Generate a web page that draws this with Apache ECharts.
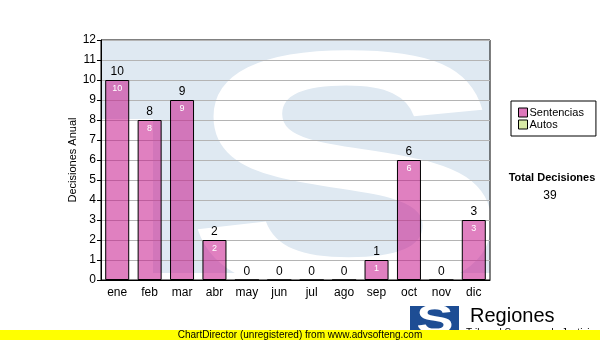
<!DOCTYPE html>
<html>
<head>
<meta charset="utf-8">
<script src="https://cdn.jsdelivr.net/npm/echarts@6/dist/echarts.min.js"></script>
<style>
  html, body { margin: 0; padding: 0; background: #fff; }
  #chart { width: 600px; height: 340px; }
</style>
</head>
<body>
<div id="chart"></div>
<script>
  // datos
  var meses = ['ene', 'feb', 'mar', 'abr', 'may', 'jun', 'jul', 'ago', 'sep', 'oct', 'nov', 'dic'];
  var sentencias = [10, 8, 9, 2, 0, 0, 0, 0, 1, 6, 0, 3];
  var autos = [0, 0, 0, 0, 0, 0, 0, 0, 0, 0, 0, 0];

  var total = 0;
  sentencias.concat(autos).forEach(function (v) { total += v; });

  var font = 'Arial, "Liberation Sans", sans-serif';
  var myChart = echarts.init(document.getElementById('chart'));

  myChart.setOption({
    animation: false,
    textStyle: { fontFamily: font },
    grid: {
      left: 101, top: 40, width: 389, height: 240,
      show: true,
      borderColor: '#000',
      borderWidth: 1,
      backgroundColor: 'transparent'
    },
    legend: {
      orient: 'vertical',
      left: 511, top: 101,
      padding: [6, 12, 6, 7],
      itemGap: 1,
      itemWidth: 9, itemHeight: 9,
      borderColor: '#000', borderWidth: 1,
      textStyle: { fontSize: 11, color: '#000', fontFamily: font, padding: [0, 0, 0, -3] },
      data: [
        { name: 'Sentencias', icon: 'rect', itemStyle: { color: '#dd77bb', borderColor: '#000', borderWidth: 1 } },
        { name: 'Autos', icon: 'rect', itemStyle: { color: '#d8eaa6', borderColor: '#000', borderWidth: 1 } }
      ]
    },
    xAxis: {
      type: 'category',
      data: meses,
      axisLine: { lineStyle: { color: '#000' } },
      axisTick: { alignWithLabel: true, length: 4, lineStyle: { color: '#000' } },
      axisLabel: { color: '#000', fontSize: 12, margin: 7, fontFamily: font }
    },
    yAxis: {
      type: 'value',
      min: 0, max: 12, interval: 1,
      name: 'Decisiones Anual',
      nameLocation: 'middle',
      nameRotate: 90,
      nameGap: 23,
      nameMoveOverlap: false,
      nameTextStyle: { color: '#000', fontSize: 11, fontFamily: font },
      axisLine: { show: true, lineStyle: { color: '#000' } },
      axisTick: { show: true, length: 4, lineStyle: { color: '#000' } },
      axisLabel: { color: '#000', fontSize: 12, margin: 5, fontFamily: font },
      splitLine: { lineStyle: { color: '#b4b4b4' } }
    },
    series: [
      {
        name: 'Sentencias',
        type: 'bar',
        data: sentencias,
        barWidth: 24,
        barGap: '-100%',
        itemStyle: { color: 'rgba(199,24,140,0.55)', borderColor: '#000', borderWidth: 1 },
        label: {
          show: true, position: 'insideTop', distance: 4,
          color: '#fff', fontSize: 9, fontFamily: font,
          formatter: function (p) { return p.value ? p.value : ''; }
        }
      },
      {
        name: 'Autos',
        type: 'bar',
        data: autos,
        barWidth: 24,
        barGap: '-100%',
        itemStyle: { color: '#d8eaa6', borderWidth: 0 }
      },
      {
        name: 'etiquetas',
        type: 'bar',
        data: sentencias,
        barWidth: 24,
        barGap: '-100%',
        silent: true,
        itemStyle: { color: 'transparent' },
        label: { show: true, position: 'top', distance: 2, color: '#000', fontSize: 12, fontFamily: font }
      }
    ],
    graphic: {
      elements: [
        // marca de agua del logo
        { type: 'rect', z: -10, shape: { x: 101, y: 40, width: 389, height: 79 }, style: { fill: '#dfe9f2' } },
        { type: 'rect', z: -10, shape: { x: 153, y: 119, width: 337, height: 154 }, style: { fill: '#dfe9f2' } },
        {
          type: 'text', z: -9, x: 347, y: 196, scaleX: 1.42, scaleY: 1,
          style: { text: 'S', font: 'bold 345px ' + font, fill: '#fff', textAlign: 'center', textVerticalAlign: 'middle' }
        },
        { type: 'rect', z: -8, shape: { x: 101, y: 0, width: 389, height: 39.5 }, style: { fill: '#fff' } },
        { type: 'rect', z: -8, shape: { x: 490.5, y: 0, width: 109.5, height: 300 }, style: { fill: '#fff' } },
        { type: 'rect', z: -8, shape: { x: 101, y: 280.5, width: 389, height: 40 }, style: { fill: '#fff' } },

        { type: 'text', x: 552, y: 178, style: { text: 'Total Decisiones', font: 'bold 11px ' + font, fill: '#000', textAlign: 'center', textVerticalAlign: 'middle' } },
        { type: 'text', x: 550, y: 196, style: { text: String(total), font: '12px ' + font, fill: '#000', textAlign: 'center', textVerticalAlign: 'middle' } },

        // logo inferior
        { type: 'rect', shape: { x: 410, y: 306, width: 49, height: 26 }, style: { fill: '#1d4d94' } },
        {
          type: 'text', x: 435, y: 322, scaleX: 1.4,
          style: { text: 'S', font: 'bold 40px ' + font, fill: '#fff', textAlign: 'center', textVerticalAlign: 'middle' }
        },
        { type: 'text', x: 470, y: 306, style: { text: 'Regiones', font: '20px ' + font, fill: '#000', textAlign: 'left', textVerticalAlign: 'top' } },
        { type: 'text', x: 466, y: 328, style: { text: 'Tribunal Supremo de Justicia', font: '10px ' + font, fill: '#000', textAlign: 'left', textVerticalAlign: 'top' } },

        // barra amarilla
        { type: 'rect', shape: { x: 0, y: 330, width: 600, height: 10 }, style: { fill: '#ffff00' } },
        { type: 'text', x: 300, y: 335, style: { text: 'ChartDirector (unregistered) from www.advsofteng.com', font: '10px ' + font, fill: '#000', textAlign: 'center', textVerticalAlign: 'middle' } }
      ]
    }
  });

  window.addEventListener('resize', function () { myChart.resize(); });
</script>
</body>
</html>
